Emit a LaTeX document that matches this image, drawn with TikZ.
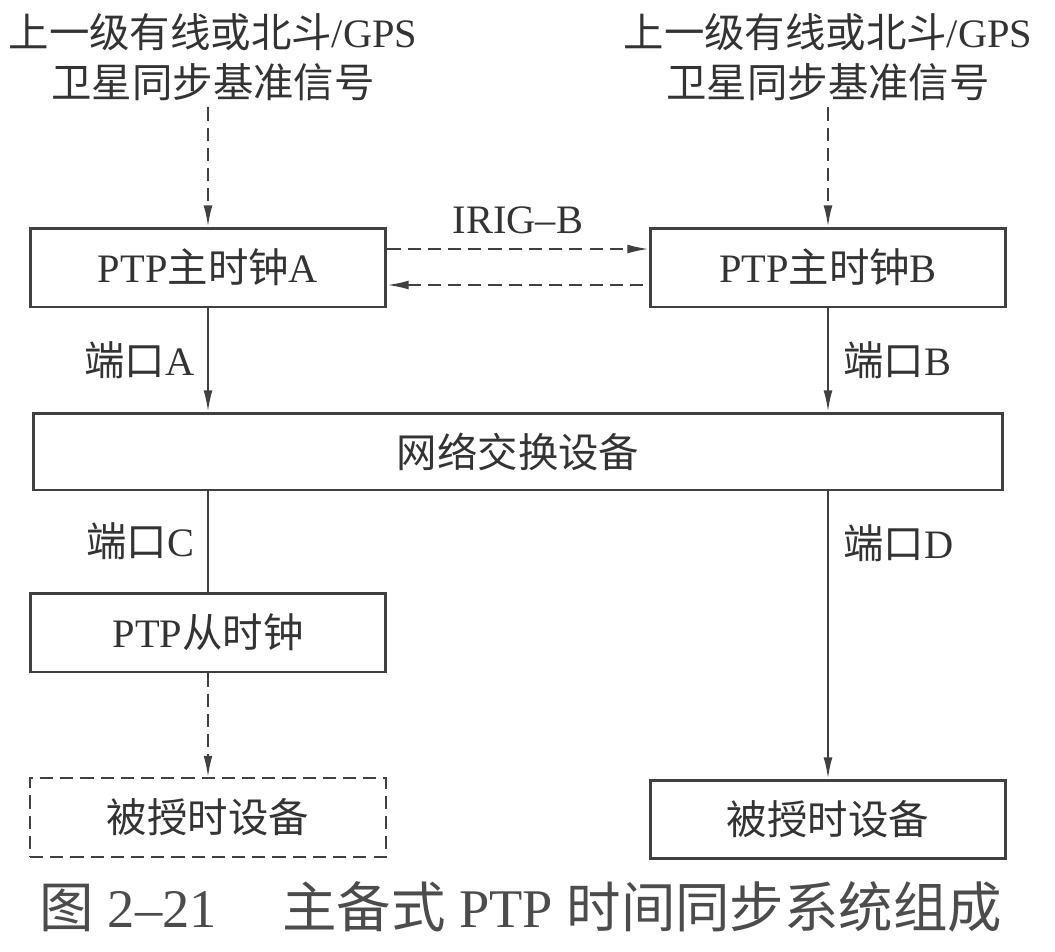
\documentclass[tikz,border=0pt]{standalone}
\usepackage{fontspec}
\setmainfont{Liberation Serif}
\newfontfamily\cjk{Noto Sans CJK SC}
\usetikzlibrary{arrows.meta}
\newcommand\zh[1]{{\cjk #1}}

\begin{document}
\begin{tikzpicture}[x=0.02cm,y=-0.02cm,line width=1pt,draw=black!75,>={Latex[length=12pt,width=5pt]},
  lbl/.style={font=\fontsize{23}{28.4}\selectfont,text=black!80},
  box/.style={lbl,draw=black!75,line width=1.7pt,minimum width=7.12cm,minimum height=1.58cm,inner sep=0pt},
  dsh/.style={dash pattern=on 7.5pt off 4pt}]
  \useasboundingbox (0,0) rectangle (1055,951);
  % reference signals
  \node[lbl,align=center] (srcA) at (213,57) {\zh{上一级有线或北斗}/GPS\\\zh{卫星同步基准信号}};
  \node[lbl,align=center] (srcB) at (828,57) {\zh{上一级有线或北斗}/GPS\\\zh{卫星同步基准信号}};
  \node[box] (mA) at (208,267.5) {PTP\zh{主时钟}A};
  \node[box] (mB) at (828,267.5) {PTP\zh{主时钟}B};
  \node[box,minimum width=19.4cm,minimum height=1.54cm] (net) at (518,451.5) {\zh{网络交换设备}};
  \node[box] (slv) at (208,632.5) {PTP\zh{从时钟}};
  \node[box,dsh,line width=1.3pt] (devL) at (208,817.5) {\zh{被授时设备}};
  \node[box,minimum height=1.56cm] (devR) at (828,819) {\zh{被授时设备}};
  \draw[->,dsh] (srcA.south -| mA.north) -- (mA.north);
  \draw[->,dsh] (srcB.south -| mB.north) -- (mB.north);
  % IRIG-B between the two masters
  \draw[->,dsh] ([yshift=0.37cm]mA.east) -- ([yshift=0.37cm]mB.west) node[midway,above=5pt,lbl]{IRIG–B};
  \draw[<-,dsh] ([yshift=-0.35cm]mA.east) -- ([yshift=-0.35cm]mB.west);
  \draw[->] (mA.south) -- (mA.south |- net.north) node[midway,left=4pt,lbl]{\zh{端口}A};
  \draw[->] (mB.south) -- (mB.south |- net.north) node[midway,right=5pt,lbl]{\zh{端口}B};
  \draw (net.south -| slv.north) -- (slv.north) node[midway,left=4pt,lbl]{\zh{端口}C};
  \draw[->] (net.south -| devR.north) -- (devR.north) node[pos=0.18,right=5pt,lbl]{\zh{端口}D};
  \draw[->,dsh] (slv.south) -- (devL.north);
  \node[font=\fontsize{31}{36}\selectfont,text=black!70] (cap) at (521,907) {\zh{图} 2–21\hspace{1.2em}\zh{主备式} PTP \zh{时间同步系统组成}};
\end{tikzpicture}
\end{document}
